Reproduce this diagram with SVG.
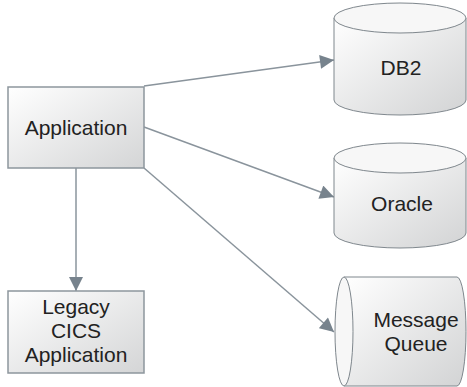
<svg xmlns="http://www.w3.org/2000/svg" width="467" height="387" viewBox="0 0 467 387">
<defs>
<linearGradient id="g" x1="0" y1="0" x2="1" y2="1">
<stop offset="0" stop-color="#ffffff"/>
<stop offset="1" stop-color="#d4d5d6"/>
</linearGradient>
<linearGradient id="gc" x1="0" y1="0" x2="1" y2="1">
<stop offset="0" stop-color="#ffffff"/>
<stop offset="1" stop-color="#d2d3d4"/>
</linearGradient>
<marker id="ah" viewBox="0 0 10 10" refX="10" refY="5" markerWidth="15" markerHeight="14" markerUnits="userSpaceOnUse" orient="auto">
<path d="M0,0 L10,5 L0,10 Z" fill="#77838d"/>
</marker>
<style>
.box{fill:url(#g);stroke:#8d969d;stroke-width:1.5}
.cyl{fill:url(#gc);stroke:#7f878d;stroke-width:1}
.top{fill:#f7f7f7;stroke:#7f878d;stroke-width:1}
.t{font-family:"Liberation Sans",Arial,sans-serif;font-size:21px;fill:#222;text-anchor:middle}
.c{fill:none;stroke:#8a949c;stroke-width:1.5}
</style>
</defs>
<g id="connectors">
<line class="c" x1="144" y1="86" x2="334" y2="60" marker-end="url(#ah)"/>
<line class="c" x1="144" y1="127" x2="334" y2="197" marker-end="url(#ah)"/>
<line class="c" x1="144" y1="168" x2="334" y2="332" marker-end="url(#ah)"/>
<line class="c" x1="76" y1="168" x2="76" y2="291" marker-end="url(#ah)"/>
</g>
<g id="application">
<rect class="box" x="8" y="87" width="136" height="81"/>
<text class="t" x="76" y="135">Application</text>
</g>
<g id="legacy">
<rect class="box" x="8" y="291" width="136" height="82"/>
<text class="t" x="76" y="314">Legacy</text>
<text class="t" x="76" y="338">CICS</text>
<text class="t" x="76" y="362">Application</text>
</g>
<g id="db2">
<path class="cyl" d="M334,18 L334,100 A66,15 0 0 0 466,100 L466,18"/>
<ellipse class="top" cx="400" cy="18" rx="66" ry="15"/>
<text class="t" x="401" y="75">DB2</text>
</g>
<g id="oracle">
<path class="cyl" d="M334,158 L334,233 A66,15 0 0 0 466,233 L466,158"/>
<ellipse class="top" cx="400" cy="158" rx="66" ry="15"/>
<text class="t" x="402" y="211">Oracle</text>
</g>
<g id="mq">
<path class="cyl" d="M344,277 L457,277 A9,54.5 0 0 1 457,386 L344,386"/>
<ellipse class="top" cx="344" cy="331.5" rx="9" ry="54.5"/>
<text class="t" x="416" y="327">Message</text>
<text class="t" x="416" y="351">Queue</text>
</g>
</svg>
